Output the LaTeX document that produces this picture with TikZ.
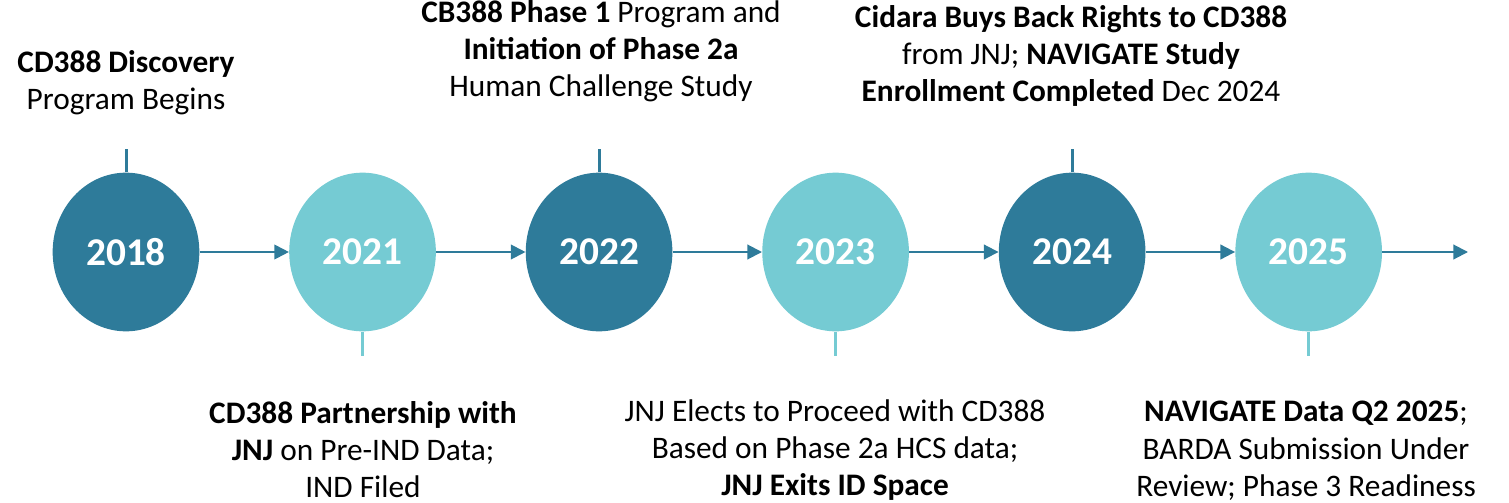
\documentclass[tikz,border=0pt]{standalone}
\usepackage{fontspec}
\setmainfont{Carlito}
\usepackage{xcolor}
\usepackage{tikz}
\usetikzlibrary{shapes.geometric, arrows.meta, positioning}

\definecolor{tealdark}{HTML}{2E7B9A}
\definecolor{teallight}{HTML}{75CBD3}

\begin{document}
\begin{tikzpicture}[
    x=0.75pt, y=-0.75pt,
    year/.style={ellipse, inner sep=0pt, minimum width=110pt, minimum height=119pt, text=white, font=\fontsize{29.5}{32}\selectfont\bfseries},
    ydark/.style={year, fill=tealdark},
    ylight/.style={year, fill=teallight},
    note/.style={align=center, inner sep=0pt, text=black, font=\fontsize{23.5}{28}\selectfont},
    arr/.style={-{Triangle[length=11pt, width=11pt]}, line width=1.5pt, color=tealdark},
    tick/.style={line width=2.25pt}
]
\useasboundingbox (0,0) rectangle (1509,503);

% Year circles along the time line
\node[ydark] (y2018) at (126,252) {2018};
\node[ylight, right=67pt of y2018] (y2021) {2021};
\node[ydark, right=67pt of y2021] (y2022) {2022};
\node[ylight, right=67pt of y2022] (y2023) {2023};
\node[ydark, right=67pt of y2023] (y2024) {2024};
\node[ylight, right=67pt of y2024] (y2025) {2025};
\coordinate (tlend) at (1468,252);

% Arrows between years
\draw[arr] (y2018) -- (y2021);
\draw[arr] (y2021) -- (y2022);
\draw[arr] (y2022) -- (y2023);
\draw[arr] (y2023) -- (y2024);
\draw[arr] (y2024) -- (y2025);
\draw[arr] (y2025) -- (tlend);

% Ticks
\draw[tick, tealdark] (y2018.north) -- ++(0,-23);
\draw[tick, teallight] (y2021.south) -- ++(0,24);
\draw[tick, tealdark] (y2022.north) -- ++(0,-23);
\draw[tick, teallight] (y2023.south) -- ++(0,24);
\draw[tick, tealdark] (y2024.north) -- ++(0,-23);
\draw[tick, teallight] (y2025.south) -- ++(0,24);

% Milestones above
\node[note, anchor=north] (m2018) at (126,50) {\textbf{CD388 Discovery}\\Program Begins};
\node[note, anchor=north] (m2022) at (601,0) {\textbf{CB388 Phase 1} Program and\\\textbf{Initiation of Phase 2a}\\Human Challenge Study};
\node[note, anchor=north] (m2024) at (1071,5) {\textbf{Cidara Buys Back Rights to CD388}\\from JNJ; \textbf{NAVIGATE Study}\\\textbf{Enrollment Completed} Dec 2024};

% Milestones below
\node[note, anchor=north] (m2021) at (363,401) {\textbf{CD388 Partnership with}\\\textbf{JNJ} on Pre-IND Data;\\IND Filed};
\node[note, anchor=north] (m2023) at (835,399) {JNJ Elects to Proceed with CD388\\Based on Phase 2a HCS data;\\\textbf{JNJ Exits ID Space}};
\node[note, anchor=north] (m2025) at (1306,401) {\textbf{NAVIGATE Data Q2 2025};\\BARDA Submission Under\\Review; Phase 3 Readiness};
\end{tikzpicture}
\end{document}
